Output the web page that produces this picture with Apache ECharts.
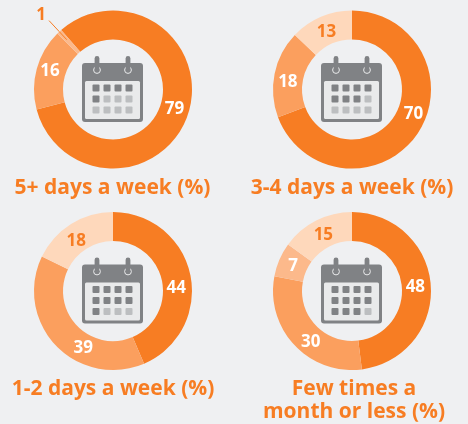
<!DOCTYPE html>
<html>
<head>
<meta charset="utf-8">
<style>html,body{margin:0;padding:0;background:#eff0f2}#c{width:468px;height:424px}</style>
<script src="https://cdn.jsdelivr.net/npm/echarts@6/dist/echarts.min.js"></script>
</head>
<body>
<div id="c"></div>
<script>
const titles = ['5+ days a week (%)', '3-4 days a week (%)', '1-2 days a week (%)', 'Few times a\nmonth or less (%)'];
const values5plus = [79, 16, 1];
const values3to4 = [70, 18, 13];
const values1to2 = [44, 39, 18];
const valuesFew = [48, 30, 7, 15];
const darkCells = [5, 7, 9, 11];

const ORANGE = '#f77d23', MID = '#fb9f5e', SOFT = '#fcb98b', PALE = '#fed8bb';
const FONT = '"Open Sans", sans-serif';
const charts = [
  {values: values5plus, colors: [ORANGE, MID, SOFT], text: ['#fff', '#fff', ORANGE], nudge: [[-3, 0], [2, -1], [-1, -5]], cx: 113, cy: 89.5, start: 131, tx: 107.5, ty: 172},
  {values: values3to4, colors: [ORANGE, MID, PALE], text: ['#fff', '#fff', ORANGE], nudge: [[6, -14], [2, 6], [1, 5]], cx: 352, cy: 89.5, start: 90, tx: 347, ty: 172},
  {values: values1to2, colors: [ORANGE, MID, PALE], text: ['#fff', '#fff', ORANGE], nudge: [[-3, 11], [19, 11], [-1, 7]], cx: 113, cy: 291, start: 90, tx: 108, ty: 373},
  {values: valuesFew, colors: [ORANGE, MID, SOFT, PALE], text: ['#fff', '#fff', '#fff', ORANGE], nudge: [[-4, 0], [8, 5], [3, 2], [2, 4]], cx: 352, cy: 291, start: 90, tx: 349, ty: 373}
];

function calendar(cx, cy, dark) {
  const GREY = '#808285', LIGHT = '#bcbec0';
  const kids = [
    {type: 'rect', shape: {x: -30.5, y: -26, width: 61, height: 59, r: 3}, style: {fill: GREY}},
    {type: 'rect', shape: {x: -27.5, y: -8, width: 55, height: 38, r: 1.5}, style: {fill: '#e9eaeb'}}
  ];
  [-15.5, 15.5].forEach(function (x) {
    kids.push({type: 'circle', shape: {cx: x, cy: -19, r: 3.4}, style: {fill: 'none', stroke: '#e9eaeb', lineWidth: 1}});
    kids.push({type: 'rect', shape: {x: x - 2.4, y: -33, width: 4.8, height: 14, r: 2.4}, style: {fill: GREY}});
  });
  for (let r = 0; r < 3; r++) {
    for (let c = 0; c < 4; c++) {
      kids.push({type: 'rect', shape: {x: -20 + c * 11, y: -4.5 + r * 11, width: 7, height: 7, r: 1},
        style: {fill: r * 4 + c < dark ? GREY : LIGHT}});
    }
  }
  return {type: 'group', x: cx - 0.5, y: cy - 0.5, silent: true, children: kids};
}

const series = charts.map(function (ch) {
  return {
    type: 'pie', center: [ch.cx, ch.cy], radius: [50, 79], startAngle: ch.start,
    clockwise: true, silent: true, animation: false, avoidLabelOverlap: false, percentPrecision: 2,
    label: {position: 'inside', formatter: '{c}', fontFamily: FONT, fontWeight: 700, fontSize: 17},
    labelLine: {show: false},
    data: ch.values.map(function (v, i) {
      const small = v === 1;
      return {
        value: v,
        itemStyle: {color: ch.colors[i]},
        label: small
          ? {position: 'outside', color: ORANGE, offset: ch.nudge[i], distanceToLabelLine: 2}
          : {color: ch.text[i], offset: ch.nudge[i]},
        labelLine: small
          ? {show: true, length: 15, length2: 0, lineStyle: {color: ORANGE, width: 1}}
          : {show: false}
      };
    })
  };
});

const title = charts.map(function (ch, i) {
  return {
    text: titles[i], left: ch.tx, top: ch.ty, textAlign: 'center',
    textStyle: {fontFamily: FONT, fontWeight: 700, fontSize: 21, color: ORANGE, lineHeight: 23}
  };
});

// inner part of the leader line of the smallest slice, found from the slice's own angle
const c0 = charts[0];
const sum0 = values5plus.reduce(function (a, b) { return a + b; }, 0);
const midDeg = c0.start - 360 * (values5plus[0] + values5plus[1] + values5plus[2] / 2) / sum0;
const rad = midDeg * Math.PI / 180;
const leader = {
  type: 'line', z: 100, silent: true,
  shape: {
    x1: c0.cx + 68 * Math.cos(rad), y1: c0.cy - 68 * Math.sin(rad),
    x2: c0.cx + 79 * Math.cos(rad), y2: c0.cy - 79 * Math.sin(rad)
  },
  style: {stroke: ORANGE, lineWidth: 1}
};

const chart = echarts.init(document.getElementById('c'), null, {renderer: 'canvas'});
chart.setOption({
  backgroundColor: '#eff0f2',
  animation: false,
  title: title,
  series: series,
  graphic: charts.map(function (ch, i) { return calendar(ch.cx, ch.cy, darkCells[i]); }).concat([leader])
});
</script>
</body>
</html>
